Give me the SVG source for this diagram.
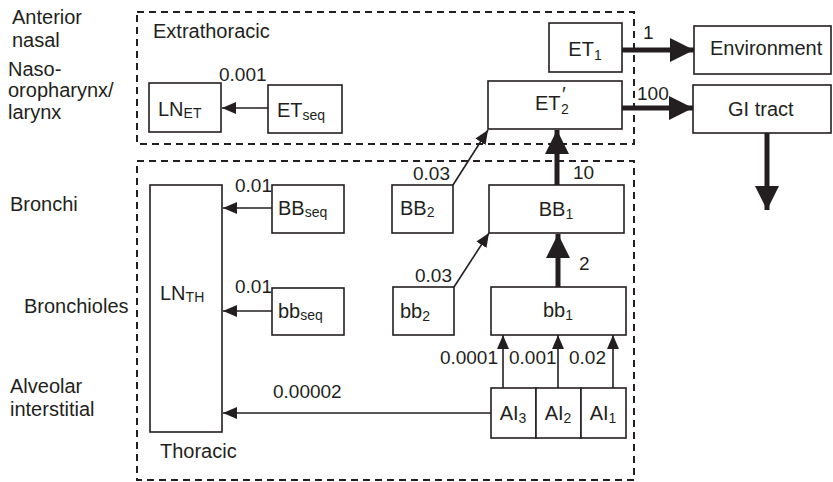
<svg xmlns="http://www.w3.org/2000/svg" width="833" height="482" viewBox="0 0 833 482">
<style>
text{font-family:"Liberation Sans",Arial,sans-serif;fill:#231f20;font-size:20px}
.num{font-size:19px}
.sub{font-size:14px}
.box{fill:#fff;stroke:#231f20;stroke-width:1.6}
.dash{fill:none;stroke:#231f20;stroke-width:2;stroke-dasharray:7 5}
.thin{fill:none;stroke:#231f20;stroke-width:1.6}
.thick{fill:none;stroke:#231f20;stroke-width:5}
</style>
<defs>
<marker id="ah" markerWidth="14" markerHeight="12" refX="14" refY="6" orient="auto" markerUnits="userSpaceOnUse"><path d="M0,0 L14,6 L0,12 Z" fill="#231f20"/></marker>
<marker id="ahb" markerWidth="24" markerHeight="24" refX="24" refY="12" orient="auto" markerUnits="userSpaceOnUse"><path d="M0,0 L24,12 L0,24 Z" fill="#231f20"/></marker>
</defs>
<g id="regions">
<text x="12" y="24">Anterior</text>
<text x="12" y="47">nasal</text>
<text x="8" y="76">Naso-</text>
<text x="8" y="97">oropharynx/</text>
<text x="8" y="119">larynx</text>
<text x="10" y="211">Bronchi</text>
<text x="24" y="313">Bronchioles</text>
<text x="10" y="393">Alveolar</text>
<text x="10" y="416">interstitial</text>
</g>
<g id="extrathoracic">
<rect class="dash" x="137" y="12" width="497" height="132"/>
<text x="153" y="38">Extrathoracic</text>
</g>
<g id="thoracic">
<rect class="dash" x="137" y="161" width="497" height="319"/>
<text x="160" y="458">Thoracic</text>
</g>
<g id="LN_ET"><rect class="box" x="149" y="83" width="72" height="49"/><text x="158" y="116">LN<tspan class="sub" dy="2">ET</tspan></text></g>
<g id="ET_seq"><rect class="box" x="268" y="85" width="74" height="48"/><text x="277" y="117">ET<tspan class="sub" dy="3">seq</tspan></text></g>
<g id="ET1"><rect class="box" x="549" y="23" width="73" height="49"/><text x="585" y="56" text-anchor="middle">ET<tspan class="sub" dy="4">1</tspan></text></g>
<g id="ET2p"><rect class="box" x="488" y="81" width="134" height="48"/><text x="535" y="110">ET<tspan x="562" y="101" font-size="20">′</tspan><tspan class="sub" x="561" y="114">2</tspan></text></g>
<g id="Environment"><rect class="box" x="694" y="26" width="137" height="48"/><text x="710" y="55">Environment</text></g>
<g id="GI"><rect class="box" x="693" y="85" width="138" height="48"/><text x="728" y="116">GI tract</text></g>
<g id="LN_TH"><rect class="box" x="150" y="185" width="72" height="247"/><text x="160" y="300">LN<tspan class="sub" dy="2">TH</tspan></text></g>
<g id="BB_seq"><rect class="box" x="272" y="185" width="72" height="48"/><text x="278" y="215">BB<tspan class="sub" dy="2">seq</tspan></text></g>
<g id="bb_seq"><rect class="box" x="272" y="288" width="72" height="47"/><text x="278" y="318">bb<tspan class="sub" dy="2">seq</tspan></text></g>
<g id="BB2"><rect class="box" x="392" y="185" width="61" height="48"/><text x="400" y="215">BB<tspan class="sub" dy="2">2</tspan></text></g>
<g id="bb2"><rect class="box" x="393" y="287" width="61" height="48"/><text x="400" y="318">bb<tspan class="sub" dy="3">2</tspan></text></g>
<g id="BB1"><rect class="box" x="489" y="185" width="135" height="48"/><text x="556" y="216" text-anchor="middle">BB<tspan class="sub" dy="3">1</tspan></text></g>
<g id="bb1"><rect class="box" x="491" y="287" width="135" height="48"/><text x="558" y="317" text-anchor="middle">bb<tspan class="sub" dy="3">1</tspan></text></g>
<g id="AI3"><rect class="box" x="491" y="388" width="45" height="50"/><text x="513" y="420" text-anchor="middle">AI<tspan class="sub" dy="3">3</tspan></text></g>
<g id="AI2"><rect class="box" x="536" y="388" width="45" height="50"/><text x="558" y="420" text-anchor="middle">AI<tspan class="sub" dy="3">2</tspan></text></g>
<g id="AI1"><rect class="box" x="581" y="388" width="45" height="50"/><text x="603" y="420" text-anchor="middle">AI<tspan class="sub" dy="3">1</tspan></text></g>
<g id="connectors">
<line class="thin" x1="268" y1="108" x2="222" y2="108" marker-end="url(#ah)"/>
<line class="thick" x1="622" y1="50" x2="694" y2="50" marker-end="url(#ahb)"/>
<line class="thick" x1="622" y1="108" x2="693" y2="108" marker-end="url(#ahb)"/>
<line class="thick" x1="767" y1="133" x2="767" y2="210" marker-end="url(#ahb)"/>
<line class="thick" x1="557" y1="185" x2="557" y2="130" marker-end="url(#ahb)"/>
<line class="thin" x1="453" y1="185" x2="488" y2="130" marker-end="url(#ah)"/>
<line class="thin" x1="272" y1="208" x2="223" y2="208" marker-end="url(#ah)"/>
<line class="thin" x1="272" y1="311" x2="223" y2="311" marker-end="url(#ah)"/>
<line class="thin" x1="454" y1="287" x2="489" y2="233" marker-end="url(#ah)"/>
<line class="thick" x1="558" y1="287" x2="558" y2="234" marker-end="url(#ahb)"/>
<line class="thin" x1="503" y1="388" x2="503" y2="335" marker-end="url(#ah)"/>
<line class="thin" x1="558" y1="388" x2="558" y2="335" marker-end="url(#ah)"/>
<line class="thin" x1="613" y1="388" x2="613" y2="335" marker-end="url(#ah)"/>
<line class="thin" x1="491" y1="413" x2="223" y2="413" marker-end="url(#ah)"/>
<text class="num" x="219" y="81">0.001</text>
<text class="num" x="643" y="39">1</text>
<text class="num" x="637" y="100">100</text>
<text class="num" x="573" y="179">10</text>
<text class="num" x="413" y="180">0.03</text>
<text class="num" x="235" y="192">0.01</text>
<text class="num" x="235" y="293">0.01</text>
<text class="num" x="415" y="282">0.03</text>
<text class="num" x="579" y="270">2</text>
<text class="num" x="498" y="364" text-anchor="end">0.0001</text>
<text class="num" x="509" y="364">0.001</text>
<text class="num" x="569" y="364">0.02</text>
<text class="num" x="273" y="398">0.00002</text>
</g>
</svg>
